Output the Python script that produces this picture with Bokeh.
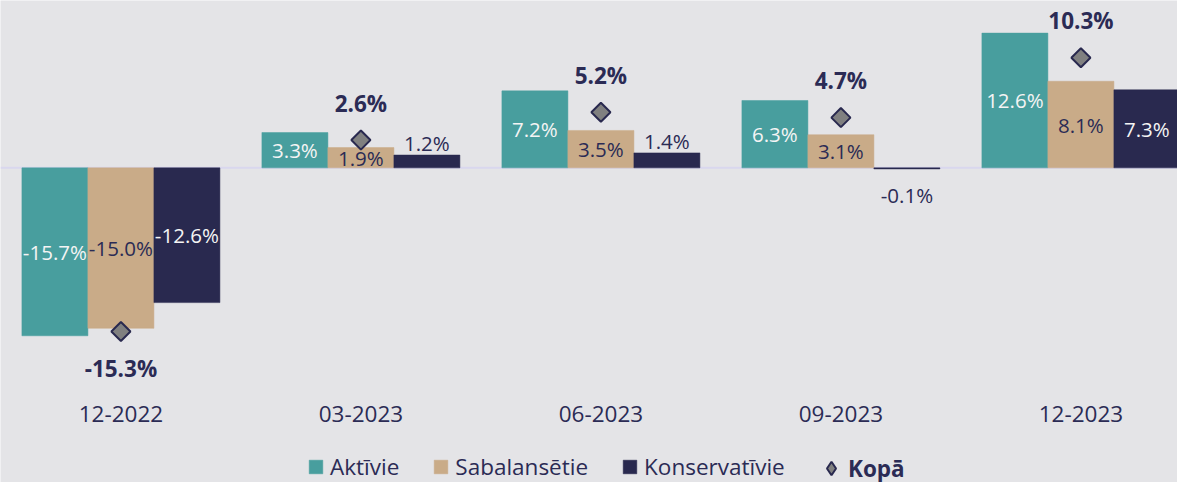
import math
from bokeh.plotting import figure
from bokeh.models import (ColumnDataSource, Legend, LegendItem, Span)
from bokeh.core.properties import value
from bokeh.embed import file_html
from bokeh.resources import INLINE

categories = ["12-2022", "03-2023", "06-2023", "09-2023", "12-2023"]
aktivie = [-15.7, 3.3, 7.2, 6.3, 12.6]
sabalansetie = [-15.0, 1.9, 3.5, 3.1, 8.1]
konservativie = [-12.6, 1.2, 1.4, -0.1, 7.3]
kopa = [-15.3, 2.6, 5.2, 4.7, 10.3]

series_names = ["Aktīvie", "Sabalansētie", "Konservatīvie"]
total_name = "Kopā"

BG = "#e4e4e7"
TEAL = "#489e9e"
TAN = "#c9ab88"
NAVY = "#29294f"
TEXT = "#2b2b55"
FONT = "Open Sans"

W, H = 1177, 482
p = figure(width=W, height=H, output_backend="svg", toolbar_location=None,
           x_range=(-0.5017, 4.4025), y_range=(-29.42, 15.65),
           min_border=0, background_fill_color=BG, border_fill_color=BG,
           outline_line_color=None)
p.xaxis.visible = False
p.yaxis.visible = False
p.grid.visible = False

xs = list(range(len(categories)))
bw = 0.275
offsets = [-bw, 0.0, bw]
colors = [TEAL, TAN, NAVY]
all_series = [aktivie, sabalansetie, konservativie]

p.add_layout(Span(location=0, dimension="width", line_color="#d9d7ee", line_width=2, level="underlay"))

renderers = []
for vals, off, col in zip(all_series, offsets, colors):
    src = ColumnDataSource(dict(x=[x + off for x in xs], top=vals))
    r = p.vbar(x="x", top="top", bottom=0, width=bw, source=src,
               fill_color=col, line_color=col, line_width=0.5)
    renderers.append(r)

# bar labels
for si, (vals, off, col) in enumerate(zip(all_series, offsets, colors)):
    in_x, in_y, in_t, in_c = [], [], [], []
    out_x, out_y, out_t, out_off = [], [], [], []
    for x, v in zip(xs, vals):
        label = f"{v:.1f}%"
        if si == 2 and abs(v) < 2:
            out_x.append(x + off); out_y.append(v); out_t.append(label)
            out_off.append(-12 if v >= 0 else 26)
        else:
            in_x.append(x + off); in_y.append(v / 2); in_t.append(label)
            in_c.append(TEXT if si == 1 else "#f4f4f4")
    p.text(x=in_x, y=in_y, text=in_t, text_color=in_c, text_align="center",
           text_baseline="middle", text_font=value(FONT), text_font_size="20.5px")
    if out_x:
        p.text(x="x", y="y", text="t", y_offset="o",
               source=ColumnDataSource(dict(x=out_x, y=out_y, t=out_t, o=out_off)),
               text_color=TEXT, text_align="center", text_baseline="middle",
               text_font=value(FONT), text_font_size="20.5px")

# totals: a diamond key (used by the legend) hidden under the rotated-square markers
dia_key = p.scatter(x=xs, y=kopa, marker="diamond", size=11, fill_color="#808080",
                    line_color=NAVY, line_width=2)
p.scatter(x=xs, y=kopa, marker="square", size=13.5, angle=math.pi / 4,
          fill_color="#808080", line_color=NAVY, line_width=2)
tot_off = [-37 if v >= 0 else 37 for v in kopa]
p.text(x="x", y="y", text="t", y_offset="o",
       source=ColumnDataSource(dict(x=xs, y=kopa, t=[f"{v:.1f}%" for v in kopa], o=tot_off)),
       text_color=TEXT, text_align="center", text_baseline="middle",
       text_font=value(FONT), text_font_size="22.5px", text_font_style="bold")

# category labels along the bottom of the plot
CAT_Y = -23.06
p.text(x=xs, y=[CAT_Y] * len(xs), text=categories, text_color=TEXT, text_align="center",
       text_baseline="middle", text_font=value(FONT), text_font_size="22.5px")

leg1 = Legend(items=[LegendItem(label=n, renderers=[r]) for n, r in zip(series_names, renderers)],
              orientation="horizontal", location=(307, 0), glyph_width=17, glyph_height=17,
              label_standoff=6, spacing=33, padding=0, margin=0, border_line_color=None,
              background_fill_alpha=0, label_text_font=FONT, label_text_font_size="22.5px",
              label_text_color=TEXT)
leg2 = Legend(items=[LegendItem(label=total_name, renderers=[dia_key])],
              orientation="horizontal", location=(814, -3), glyph_width=34, glyph_height=34,
              label_standoff=0, padding=0, margin=0, border_line_color=None,
              background_fill_alpha=0, label_text_font=FONT, label_text_font_size="22.5px",
              label_text_color=TEXT, label_text_font_style="bold")
p.add_layout(leg1, "center")
p.add_layout(leg2, "center")

html = file_html(p, INLINE)
html = html.replace("<body>", '<body style="background-color:%s;">' % BG, 1)
open("out.html", "w").write(html)
